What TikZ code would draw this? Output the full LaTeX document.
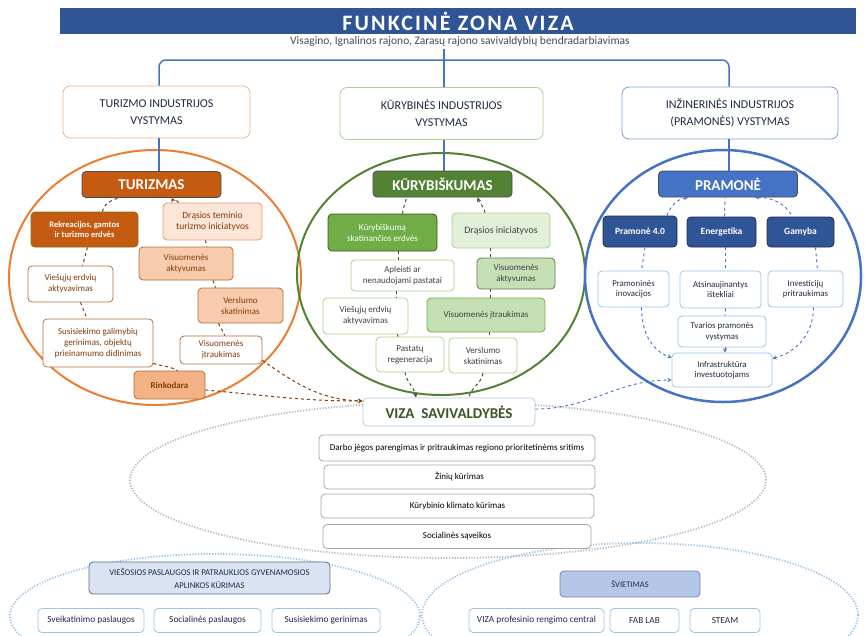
\documentclass[tikz,border=0pt]{standalone}
\usepackage{fontspec}
\setmainfont{Carlito}
\newcommand{\fsz}[2]{\fontsize{#1}{#2}\selectfont}
\definecolor{titleblue}{HTML}{2F5597}
\definecolor{torange}{HTML}{ED7D31}
\definecolor{tdark}{HTML}{C55A11}
\definecolor{tbrown}{HTML}{843C0C}
\definecolor{tline}{HTML}{B0703F}
\definecolor{tpeach}{HTML}{FBE5D6}
\definecolor{tsalmon}{HTML}{F8CBAD}
\definecolor{tapricot}{HTML}{F4B183}
\definecolor{kgreen}{HTML}{548235}
\definecolor{kmid}{HTML}{70AD47}
\definecolor{klight}{HTML}{A9D18E}
\definecolor{kpale}{HTML}{E2F0D9}
\definecolor{kmint}{HTML}{C5E0B4}
\definecolor{kdark}{HTML}{385723}
\definecolor{pblue}{HTML}{4472C4}
\definecolor{pnavy}{HTML}{2F5597}
\definecolor{plight}{HTML}{9DC3E6}
\definecolor{ppale}{HTML}{DAE3F3}
\definecolor{psky}{HTML}{B4C7E7}
\definecolor{ink}{HTML}{1F2A44}

\begin{document}
\begin{tikzpicture}[x=1pt,y=1pt,>=stealth,
    box/.style={draw,rounded corners=4,align=center,inner sep=1pt,line width=0.8pt},
    hdr/.style={box,fill=white,rounded corners=7,minimum height=52,text=ink,font=\fsz{12}{17}},
    tbox/.style={box,draw=tline,fill=white,text=tbrown,font=\fsz{9}{11}},
    kbox/.style={box,draw=klight,fill=white,text=black!75,font=\fsz{9}{11}},
    pbox/.style={box,draw=plight,fill=white,text=ink,font=\fsz{8.8}{10.5}},
    gbox/.style={box,draw=gray!70,fill=white,text=black,font=\fsz{9}{10},minimum height=24},
    bbox/.style={box,draw=plight,fill=white,text=ink,font=\fsz{9.3}{10},minimum height=24},
    head/.style={box,draw=black!70,text=white,font=\fsz{15}{17}\bfseries,minimum width=139,minimum height=26},
    tlink/.style={tbrown,dashed,line width=1pt},
    klink/.style={kdark,dashed,line width=1pt},
    plink/.style={pblue,dashed,line width=0.9pt},
    bracket/.style={pblue,line width=1.5pt}]
  \useasboundingbox (0,0) rectangle (865,-635);

  % big rings
  \draw[torange,line width=2pt] (155,-277.5) ellipse [x radius=146,y radius=127.5];
  \draw[kgreen,line width=2pt] (441,-274) ellipse [x radius=144,y radius=121];
  \draw[pblue,line width=2.5pt] (723,-276) ellipse [x radius=138,y radius=126];
  \draw[gray!55,line width=1.8pt,dash pattern=on 1.2pt off 1.6pt] (448,-480) ellipse [x radius=318,y radius=78];
  \draw[plight,line width=1.8pt,dash pattern=on 1.2pt off 1.6pt] (215,-616) ellipse [x radius=205,y radius=62];
  \draw[plight,line width=1.8pt,dash pattern=on 1.2pt off 1.6pt] (640,-615) ellipse [x radius=218,y radius=72];

  % title
  \node[fill=titleblue,minimum width=796,minimum height=26,inner sep=0,text=white,font=\fsz{22}{24}\bfseries\addfontfeatures{LetterSpace=10}] (title) at (458,-21) {FUNKCINĖ ZONA VIZA};
  \node[text=ink!85,font=\fsz{11.5}{12}] (sub) at (460,-41.5) {Visagino, Ignalinos rajono, Zarasų rajono savivaldybių bendradarbiavimas};

  \node[hdr,draw=tapricot,minimum width=187] (hdrT) at (156.5,-112) {TURIZMO INDUSTRIJOS\\VYSTYMAS};
  \node[hdr,draw=klight,minimum width=203] (hdrK) at (441.5,-113.5) {KŪRYBINĖS INDUSTRIJOS\\VYSTYMAS};
  \node[hdr,draw=pblue!70,minimum width=216] (hdrP) at (730,-113) {INŽINERINĖS INDUSTRIJOS\\(PRAMONĖS) VYSTYMAS};

  % tourism
  \node[head,fill=tdark] (turizmas) at (151.5,-184.5) {TURIZMAS};
  \node[box,fill=tdark,draw=black!60!green!40!brown,text=white,font=\fsz{8.5}{10.5}\bfseries,minimum width=107,minimum height=35] (rekr) at (84.5,-229.5) {Rekreacijos, gamtos\\ir turizmo erdvės};
  \node[tbox,fill=tpeach,draw=tapricot!90!black,font=\fsz{9.5}{11.5},minimum width=99,minimum height=37] (drasT) at (212.5,-221.5) {Drąsios teminio\\turizmo iniciatyvos};
  \node[tbox,fill=tsalmon,minimum width=94,minimum height=33] (aktT) at (186,-263.5) {Visuomenės\\aktyvumas};
  \node[tbox,minimum width=85,minimum height=36] (viesT) at (70.5,-284) {Viešųjų erdvių\\aktyvavimas};
  \node[tbox,fill=tsalmon,minimum width=85,minimum height=35] (verslT) at (240.5,-305.5) {Verslumo\\skatinimas};
  \node[tbox,minimum width=110,minimum height=48] (susis) at (98,-343) {Susisiekimo galimybių\\gerinimas, objektų\\prieinamumo didinimas};
  \node[tbox,minimum width=82,minimum height=28] (itrT) at (221,-350) {Visuomenės\\įtraukimas};
  \node[tbox,fill=tapricot,font=\fsz{9}{10.5}\bfseries,minimum width=71,minimum height=28] (rinko) at (169.5,-385) {Rinkodara};

  % creativity
  \node[head,fill=kgreen] (kuryb) at (442.5,-184) {KŪRYBIŠKUMAS};
  \node[kbox,fill=kmid,draw=kdark,text=white,minimum width=109,minimum height=37] (kerdv) at (382.5,-232.5) {Kūrybiškumą\\skatinančios erdvės};
  \node[kbox,fill=kpale,font=\fsz{9.8}{11},minimum width=98,minimum height=35] (drasK) at (501,-230.5) {Drąsios iniciatyvos};
  \node[kbox,minimum width=103,minimum height=31] (aplei) at (402.5,-275.5) {Apleisti ar\\nenaudojami pastatai};
  \node[kbox,fill=kmint,draw=kdark!80,minimum width=78,minimum height=31] (aktK) at (516,-273.5) {Visuomenės\\aktyvumas};
  \node[kbox,minimum width=85,minimum height=36] (viesK) at (365.5,-316) {Viešųjų erdvių\\aktyvavimas};
  \node[kbox,fill=kmint,draw=kmid,minimum width=118,minimum height=34] (itrK) at (486,-315) {Visuomenės įtraukimas};
  \node[kbox,minimum width=68,minimum height=35] (pastat) at (410,-354.5) {Pastatų\\regeneracija};
  \node[kbox,minimum width=68,minimum height=35] (verslK) at (483,-355.5) {Verslumo\\skatinimas};

  % industry
  \node[head,fill=pblue] (pramone) at (728,-184) {PRAMONĖ};
  \node[pbox,fill=pnavy,draw=ink,text=white,font=\fsz{9.5}{10.5}\bfseries,minimum width=74,minimum height=31] (p40) at (640,-231.5) {Pramonė 4.0};
  \node[pbox,fill=pnavy,draw=ink,text=white,font=\fsz{9.5}{10.5}\bfseries,minimum width=69,minimum height=30] (energ) at (721.5,-232) {Energetika};
  \node[pbox,fill=pnavy,draw=ink,text=white,font=\fsz{9.5}{10.5}\bfseries,minimum width=67,minimum height=30] (gamyba) at (800.5,-232) {Gamyba};
  \node[pbox,minimum width=71,minimum height=36] (inov) at (633.5,-289) {Pramoninės\\inovacijos};
  \node[pbox,minimum width=81,minimum height=37] (atsin) at (720.5,-289.5) {Atsinaujinantys\\ištekliai};
  \node[pbox,minimum width=75,minimum height=36] (invest) at (805.5,-289) {Investicijų\\pritraukimas};
  \node[pbox,minimum width=88,minimum height=31] (tvar) at (722,-331.5) {Tvarios pramonės\\vystymas};
  \node[pbox,minimum width=100,minimum height=34] (infra) at (722,-370) {Infrastruktūra\\investuotojams};

  % municipalities
  \node[box,draw=psky,fill=white,text=kdark,font=\fsz{15}{17}\bfseries,minimum width=172,minimum height=28] (viza) at (449,-412) {VIZA\ \ SAVIVALDYBĖS};
  \node[gbox,minimum width=276,minimum height=26] (darbo) at (457,-448) {Darbo jėgos parengimas ir pritraukimas regiono prioritetinėms sritims};
  \node[gbox,minimum width=271] (ziniu) at (459.5,-477) {Žinių kūrimas};
  \node[gbox,minimum width=273] (klimat) at (457.5,-506) {Kūrybinio klimato kūrimas};
  \node[gbox,minimum width=268] (social) at (457,-536.5) {Socialinės sąveikos};

  % services and education
  \node[box,fill=ppale,draw=ink!70,text=ink,font=\fsz{8.7}{13},minimum width=241,minimum height=32] (viesos) at (209.5,-578) {VIEŠOSIOS PASLAUGOS IR PATRAUKLIOS GYVENAMOSIOS\\APLINKOS KŪRIMAS};
  \node[box,fill=psky,draw=pnavy!70,text=ink,font=\fsz{8.5}{10},minimum width=140,minimum height=26] (svietimas) at (630,-584) {ŠVIETIMAS};
  \node[bbox,minimum width=106] (sveik) at (91,-620.5) {Sveikatinimo paslaugos};
  \node[bbox,minimum width=107] (socp) at (207.5,-620.5) {Socialinės paslaugos};
  \node[bbox,minimum width=108] (susg) at (326,-620.5) {Susisiekimo gerinimas};
  \node[bbox,minimum width=135] (vprof) at (536.5,-620.5) {VIZA profesinio rengimo central};
  \node[bbox,minimum width=69] (fab) at (644.5,-620.5) {FAB LAB};
  \node[bbox,minimum width=70] (steam) at (725,-620.5) {STEAM};

  % blue bracket
  \coordinate (xt) at (159,0);
  \coordinate (xk) at (444,0);
  \coordinate (xp) at (729,0);
  \coordinate (brk) at (444,-49);
  \draw[bracket,rounded corners=7] (hdrT.north -| xt) |- (444,-60) -| (hdrP.north -| xp);
  \draw[bracket] (brk) -- (hdrK.north -| xk);
  \draw[bracket] (hdrT.south -| xt) -- (turizmas.north -| xt);
  \draw[bracket] (hdrK.south -| xk) -- (kuryb.north -| xk);
  \draw[bracket] (hdrP.south -| xp) -- (pramone.north -| xp);

  % tourism links
  \draw[tlink] ([xshift=18]rekr.north) to[out=80,in=200] ([xshift=-33]turizmas.south);
  \draw[tlink,->] ([xshift=-34]drasT.north) to[out=110,in=-60] ([xshift=20]turizmas.south);
  \draw[tlink] ([xshift=3]rekr.south) -- ([xshift=12]viesT.north);
  \draw[tlink] ([xshift=10]viesT.south) -- ([xshift=-11]susis.north);
  \draw[tlink] ([xshift=-7]drasT.south) -- ([xshift=21]aktT.north);
  \draw[tlink] ([xshift=27]aktT.south) -- ([xshift=-25]verslT.north);
  \draw[tlink] ([xshift=-22]verslT.south) -- ([xshift=4]itrT.north);
  \draw[tlink] ([yshift=4]susis.south east) to[out=-20,in=150] ([xshift=8]rinko.north);
  \draw[tlink,->] ([yshift=-5]rinko.east) to[out=-5,in=180] ([yshift=11]viza.west);
  \draw[tlink,->] ([yshift=4]itrT.south east) to[out=-35,in=178] ([yshift=11]viza.west);

  % creativity links
  \draw[klink] ([xshift=20]kerdv.north) to[out=85,in=-100] ([xshift=-36]kuryb.south);
  \draw[klink,->] ([xshift=-16]drasK.north) to[out=100,in=-70] ([xshift=35]kuryb.south);
  \draw[klink] ([xshift=16]kerdv.south) -- ([xshift=-4]aplei.north);
  \draw[klink] ([xshift=-6]aplei.south) -- ([xshift=31]viesK.north);
  \draw[klink] ([xshift=32]viesK.south) -- ([xshift=-12]pastat.north);
  \draw[klink] ([xshift=-11]drasK.south) -- ([xshift=-26]aktK.north);
  \draw[klink] ([xshift=-26]aktK.south) -- ([xshift=4]itrK.north);
  \draw[klink] ([xshift=3]itrK.south) -- ([xshift=6]verslK.north);
  \draw[klink,->] ([xshift=-5]pastat.south) to[out=-80,in=100] ([xshift=-33]viza.north);
  \draw[klink] (verslK.south) to[out=-100,in=80] ([xshift=20]viza.north);

  % industry links
  \draw[plink,->] ([xshift=27]p40.north) to[out=70,in=190] ([xshift=-40]pramone.south);
  \draw[plink] ([xshift=3]energ.north) -- ([xshift=-3]pramone.south);
  \draw[plink,<-] ([xshift=27]pramone.south) to[out=0,in=120] ([xshift=-8]gamyba.north);
  \draw[plink] ([xshift=5]p40.south) -- ([xshift=8]inov.north);
  \draw[plink] ([xshift=4]energ.south) -- ([xshift=5]atsin.north);
  \draw[plink] ([xshift=15]gamyba.south) -- ([xshift=12]invest.north);
  \draw[plink,->] ([xshift=8]inov.south) to[out=-90,in=160] ([yshift=-5]infra.north west);
  \draw[plink] ([xshift=5]atsin.south) -- ([xshift=3]tvar.north);
  \draw[plink,->] ([xshift=3]tvar.south) -- ([xshift=3]infra.north);
  \draw[plink,->] ([xshift=8]invest.south) to[out=-90,in=15] ([yshift=-6]infra.north east);
  \draw[plink,->] ([yshift=3]viza.east) to[out=0,in=180] ([yshift=-10]infra.west);
\end{tikzpicture}
\end{document}
